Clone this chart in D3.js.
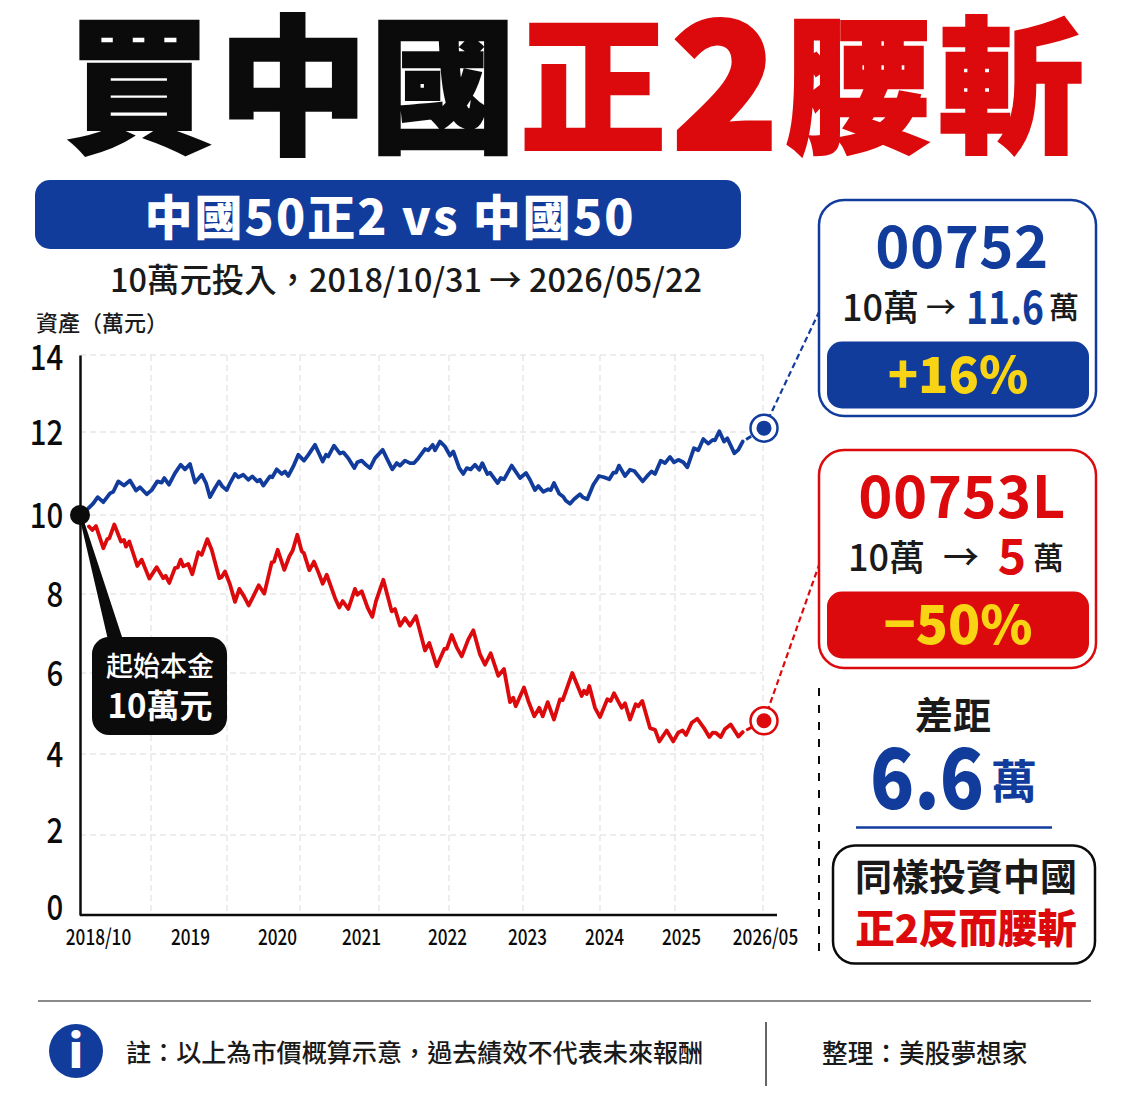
<!DOCTYPE html>
<html>
<head>
<meta charset="utf-8">
<script src="https://cdn.jsdelivr.net/npm/d3@7"></script>
<style>
  html, body { margin: 0; padding: 0; background: #fff; }
  text { font-family: "Noto Sans CJK TC", "Noto Sans", sans-serif; }
</style>
</head>
<body>
<div id="chart"></div>
<script>
// t = one step every 4 calendar days or so, counted from 2018/10/31
var yTicks = [0, 2, 4, 6, 8, 10, 12, 14];
var gridT = [71, 147, 220, 299, 369, 443, 520, 595, 683];
var xLabels = ["2018/10", "2019", "2020", "2021", "2022", "2023", "2024", "2025", "2026/05"];
var xLabelT = [18, 110, 197, 281, 367, 447, 524, 601, 685];

var blueT = [8.3, 13.3, 17.7, 23.3, 30, 33.3, 38.3, 44, 50, 56, 60, 66.7, 71.7, 77.3, 81.7, 84.3, 89, 95, 100.7, 105, 110, 115, 121.7, 126, 130, 135, 139, 142.3, 146.7, 150, 155, 158.3, 163.3, 168.3, 172.3, 177.3, 180, 183.3, 190, 192.3, 196.7, 201.7, 205, 208.3, 213.3, 218.3, 224, 228.3, 235, 242.7, 246, 248.3, 254, 260, 263.3, 268.3, 274.3, 277.3, 281.7, 285, 290, 295, 302.7, 306.7, 312.3, 316.7, 320, 325, 330, 334, 338.3, 345, 348.3, 352.7, 355, 360, 365, 370, 373.3, 379.3, 383.3, 386.7, 390.7, 395, 399.3, 402.3, 407.3, 410, 414, 417.7, 420.7, 424, 431.7, 440, 446, 450, 455, 458.3, 463.3, 468.3, 470.7, 474, 479.3, 483.3, 485.7, 490, 494, 500, 502.7, 507.3, 513.3, 519, 524, 529.3, 533.3, 536, 539, 545, 550, 554.3, 562.7, 568.3, 571.7, 575, 580.7, 585, 590, 594, 598.3, 603.3, 607.3, 614, 618.3, 623.3, 628.3, 632.7, 635, 639.3, 644, 647.3, 654.3, 658.3, 662.7];
var blueV = [10.16, 10.28, 10.43, 10.31, 10.52, 10.56, 10.81, 10.71, 10.83, 10.59, 10.67, 10.5, 10.6, 10.81, 10.78, 10.89, 10.73, 11.01, 11.21, 11.1, 11.23, 10.78, 10.97, 10.77, 10.43, 10.65, 10.81, 10.69, 10.6, 10.77, 10.99, 10.91, 10.97, 10.85, 10.93, 10.81, 10.85, 10.71, 10.93, 10.91, 11.1, 10.99, 11.05, 10.94, 11.17, 11.45, 11.31, 11.45, 11.69, 11.29, 11.45, 11.41, 11.67, 11.48, 11.51, 11.37, 11.13, 11.27, 11.31, 11.23, 11.13, 11.37, 11.57, 11.37, 11.1, 11.25, 11.19, 11.31, 11.25, 11.25, 11.37, 11.59, 11.56, 11.69, 11.56, 11.77, 11.65, 11.43, 11.53, 11.13, 10.99, 11.13, 11.1, 11.21, 11.09, 11.25, 10.99, 11.02, 10.89, 10.77, 10.89, 10.86, 11.19, 10.89, 11.01, 10.85, 10.6, 10.7, 10.56, 10.62, 10.6, 10.77, 10.51, 10.44, 10.35, 10.27, 10.38, 10.5, 10.43, 10.38, 10.73, 10.94, 10.91, 10.86, 11.02, 11.02, 11.19, 10.94, 11.09, 11.06, 10.81, 10.97, 11.05, 10.99, 11.31, 11.25, 11.4, 11.27, 11.33, 11.27, 11.15, 11.61, 11.56, 11.83, 11.72, 11.81, 11.8, 12.02, 11.77, 11.85, 11.49, 11.57, 11.77];

var redT = [9, 12.3, 16, 23.3, 27.3, 29.3, 34.3, 41, 44, 46, 49.3, 57.3, 61.7, 69.3, 76.7, 83.3, 85.7, 89.3, 95, 97.7, 100.7, 103.3, 108.3, 112.3, 118.3, 121.7, 127.3, 131.7, 139.3, 141.7, 145, 150, 155, 159.3, 164, 168.7, 173.3, 178.7, 184.3, 191.7, 194, 197.7, 204.3, 209.3, 212.7, 217.3, 221.7, 224, 229.3, 234, 239.3, 242.7, 246.7, 255, 259.3, 262.7, 268.3, 275, 277.3, 281.7, 287.7, 292.3, 296, 303.3, 311.7, 315, 320, 325, 330, 336, 345, 349.3, 356.7, 364.3, 366.7, 371.7, 376.7, 381.7, 388.3, 393.3, 400, 405, 410.7, 418.3, 424, 430, 433.3, 435.7, 444, 448.3, 454.3, 459.3, 462.7, 467.7, 474, 480, 482.7, 492.3, 501.7, 504, 506.7, 509.3, 515, 520, 527.3, 530.7, 534, 541.7, 545, 550, 555.7, 558.3, 562.3, 570, 575, 579.3, 586.7, 593.3, 598.3, 602.7, 606, 611.7, 617.3, 624, 629.3, 632.7, 636, 640.7, 645, 650.7, 658.3, 662.7];
var redV = [9.71, 9.62, 9.72, 9.16, 9.39, 9.41, 9.76, 9.33, 9.37, 9.2, 9.33, 8.71, 8.87, 8.39, 8.68, 8.4, 8.46, 8.28, 8.66, 8.67, 8.87, 8.7, 8.76, 8.5, 9.06, 8.99, 9.39, 9.12, 8.4, 8.43, 8.57, 8.24, 7.8, 8.13, 7.94, 7.71, 7.94, 8.22, 8.01, 8.8, 8.82, 9.12, 8.61, 8.95, 9.1, 9.5, 9.08, 9.03, 8.6, 8.82, 8.49, 8.26, 8.49, 7.9, 7.66, 7.82, 7.62, 8.13, 7.98, 8.07, 7.65, 7.42, 7.82, 8.36, 7.56, 7.62, 7.2, 7.39, 7.2, 7.44, 6.57, 6.76, 6.17, 6.61, 6.61, 6.96, 6.65, 6.42, 6.85, 7.08, 6.47, 6.21, 6.5, 5.93, 6.1, 5.28, 5.39, 5.18, 5.64, 5.31, 4.93, 5.14, 4.93, 5.28, 4.85, 5.35, 5.33, 6, 5.43, 5.56, 5.48, 5.68, 5.14, 4.91, 5.35, 5.31, 5.5, 5.14, 5.25, 4.85, 5.23, 5.18, 5.31, 4.64, 4.6, 4.31, 4.58, 4.31, 4.53, 4.58, 4.47, 4.77, 4.87, 4.64, 4.42, 4.53, 4.52, 4.42, 4.62, 4.73, 4.43, 4.54];

// start and end dots
var startV = 10;
var endT = 684;
var blueEnd = 12.1;
var redEnd = 4.82;

var BLUE = "#123c9c", RED = "#dc0a0c", YELLOW = "#f8d414", BLACK = "#0b0b0b";

var svg = d3.select("#chart").append("svg")
  .attr("width", 1122).attr("height", 1115)
  .style("display", "block");

// the gridlines in the picture are not evenly spaced, so the y scale has a stop per tick
var x = d3.scaleLinear().domain([0, 683]).range([80, 763]);
var y = d3.scaleLinear().domain(yTicks).range([915, 835, 754, 673, 594, 515, 432, 355]);

function label(s, px, py, size, fill, weight, anchor) {
  return svg.append("text")
    .attr("x", px).attr("y", py)
    .attr("font-size", size)
    .attr("font-weight", weight || 700)
    .attr("fill", fill)
    .attr("text-anchor", anchor || "middle")
    .attr("dominant-baseline", "central")
    .text(s);
}

// title, placed glyph by glyph because the spacing is looser than the font's
var titleGlyphs = ["買", "中", "國", "正", "2", "腰", "斬"];
var titleX = [139, 293, 443, 593, 725, 858, 1011];
var titleSize = [146, 150, 146, 146, 176, 146, 146];
titleGlyphs.forEach(function (g, i) {
  var c = i < 3 ? BLACK : RED;
  label(g, titleX[i], i === 4 ? 72 : 76, titleSize[i], c, 900).attr("stroke", c).attr("stroke-width", i === 4 ? 4 : 2.5);
});

// banner
svg.append("rect").attr("x", 35).attr("y", 180).attr("width", 706).attr("height", 69).attr("rx", 15).attr("fill", BLUE);
label("中國50正2 vs 中國50", 390, 214, 48, "#fff", 900).attr("letter-spacing", 2.1);
label("10萬元投入，2018/10/31 → 2026/05/22", 406, 277, 32.4, "#1a1a1a", 500);
label("資產（萬元）", 36, 321, 22, "#1a1a1a", 500, "start");

// grid
svg.append("g").selectAll("line").data(yTicks.slice(1)).join("line")
  .attr("x1", x(0)).attr("x2", x(683))
  .attr("y1", function (d) { return y(d); }).attr("y2", function (d) { return y(d); })
  .attr("stroke", "#dcdcdc").attr("stroke-width", 1.2).attr("stroke-dasharray", "6 4");
svg.append("g").selectAll("line").data(gridT).join("line")
  .attr("x1", function (d) { return x(d); }).attr("x2", function (d) { return x(d); })
  .attr("y1", y(14)).attr("y2", y(0))
  .attr("stroke", "#e2e2e2").attr("stroke-width", 1.2).attr("stroke-dasharray", "6 4");

// axes, tick text squeezed since the picture uses a narrow figure style
var yAxis = svg.append("g")
  .attr("transform", "translate(" + x(0) + ",0)")
  .call(d3.axisLeft(y).tickValues(yTicks).tickSize(0).tickPadding(20));
yAxis.selectAll("text")
  .attr("font-size", 35).attr("font-weight", 500).attr("fill", BLACK)
  .attr("transform", "scale(.84,1)")
  .attr("y", function (d) { return d === 0 ? -7 : d === 2 ? -4 : d === 14 ? 3 : 1; });
yAxis.select(".domain").attr("stroke", BLACK).attr("stroke-width", 2.5);

var xAxis = svg.append("g")
  .attr("transform", "translate(0," + y(0) + ")")
  .call(d3.axisBottom(x).tickValues(xLabelT)
    .tickFormat(function (d, i) { return xLabels[i]; })
    .tickSize(0).tickPadding(14));
xAxis.selectAll("text")
  .attr("font-size", 22).attr("font-weight", 500).attr("fill", BLACK)
  .attr("transform", "scale(.78,1)");
xAxis.select(".domain").attr("stroke", BLACK).attr("stroke-width", 2.5)
  .attr("d", "M" + x(0) + ",0H" + x(697));

// series
var line = d3.line()
  .x(function (d) { return x(d[0]); })
  .y(function (d) { return y(d[1]); });

function drawSeries(ts, vs, endV, color) {
  var pts = d3.zip(ts, vs);
  svg.append("path").attr("d", line(pts))
    .attr("fill", "none").attr("stroke", color).attr("stroke-width", 3.8)
    .attr("stroke-linejoin", "round").attr("stroke-linecap", "round");
  // one short dash into the end dot
  svg.append("path").attr("d", line([pts[pts.length - 1], [endT, endV]]))
    .attr("fill", "none").attr("stroke", color).attr("stroke-width", 3)
    .attr("stroke-dasharray", "0 4 6 100");
}
drawSeries(blueT, blueV, blueEnd, BLUE);
drawSeries(redT, redV, redEnd, RED);

// leader lines from the end dots up to the boxes
function leader(endV, bx, by, color) {
  svg.append("line")
    .attr("x1", x(endT)).attr("y1", y(endV)).attr("x2", bx).attr("y2", by)
    .attr("stroke", color).attr("stroke-width", 2.2).attr("stroke-dasharray", "6 3.5");
}
leader(blueEnd, 819, 312, BLUE);
leader(redEnd, 819, 565, RED);

function endDot(endV, color) {
  svg.append("circle").attr("cx", x(endT)).attr("cy", y(endV)).attr("r", 13.5)
    .attr("fill", "#fff").attr("stroke", color).attr("stroke-width", 2.5);
  svg.append("circle").attr("cx", x(endT)).attr("cy", y(endV)).attr("r", 7.5).attr("fill", color);
}
endDot(blueEnd, BLUE);
endDot(redEnd, RED);

// start callout
svg.append("path")
  .attr("d", "M" + (x(0) - 1) + "," + y(startV) + "L108,640L123,640L" + (x(0) + 2) + "," + y(startV) + "Z")
  .attr("fill", BLACK);
svg.append("circle").attr("cx", x(0)).attr("cy", y(startV)).attr("r", 10).attr("fill", BLACK);
svg.append("rect").attr("x", 92).attr("y", 637).attr("width", 135).attr("height", 98).attr("rx", 17).attr("fill", BLACK);
label("起始本金", 160, 664, 27, "#fff", 500);
label("10萬元", 160, 704, 33, "#fff", 700);

// right panels
function panel(py, color, code, pct, pctSize) {
  svg.append("rect").attr("x", 819).attr("y", py).attr("width", 277).attr("height", py === 200 ? 216 : 218).attr("rx", 25)
    .attr("fill", "#fff").attr("stroke", color).attr("stroke-width", 2.5);
  label(code, 962, py + 43, 58, color, 700).attr("letter-spacing", 0.5);
  svg.append("rect").attr("x", 827).attr("y", py + 141.5).attr("width", 262).attr("height", 67).attr("rx", 15).attr("fill", color);
  label(pct, 958, py + 171, pctSize, YELLOW, 900);
}
panel(200, BLUE, "00752", "+16%", 50);
panel(450, RED, "00753L", "−50%", 53);

label("10萬", 842, 305, 36, "#1a1a1a", 500, "start");
label("→", 941, 305, 30, "#1a1a1a", 500);
label("11.6", 966, 304, 46, BLUE, 700, "start").attr("textLength", 78).attr("lengthAdjust", "spacingAndGlyphs");
label("萬", 1049, 305, 30, "#1a1a1a", 500, "start");
label("10萬", 848, 555, 36, "#1a1a1a", 500, "start");
label("→", 961, 555, 36, "#1a1a1a", 500);
label("5", 1012, 553, 48, RED, 700);
label("萬", 1033, 555, 31, "#1a1a1a", 500, "start");

// gap block
svg.append("line").attr("x1", 819).attr("x2", 819).attr("y1", 688).attr("y2", 955)
  .attr("stroke", BLACK).attr("stroke-width", 2).attr("stroke-dasharray", "8 9");
label("差距", 953, 712, 38, "#1a1a1a", 700);
label("6.6", 927, 772, 84, BLUE, 900).attr("textLength", 114).attr("lengthAdjust", "spacingAndGlyphs");
label("萬", 1014, 778, 46, BLUE, 700);
svg.append("line").attr("x1", 856).attr("x2", 1052).attr("y1", 827.5).attr("y2", 827.5)
  .attr("stroke", BLUE).attr("stroke-width", 2.5);
svg.append("rect").attr("x", 833).attr("y", 845.5).attr("width", 262).attr("height", 118).attr("rx", 22)
  .attr("fill", "#fff").attr("stroke", BLACK).attr("stroke-width", 2.5);
label("同樣投資中國", 966, 875, 37, "#1a1a1a", 700);
label("正2反而腰斬", 966, 925, 39.5, RED, 900);

// footer
svg.append("line").attr("x1", 38).attr("x2", 1091).attr("y1", 1001).attr("y2", 1001)
  .attr("stroke", "#8a8a8a").attr("stroke-width", 2);
svg.append("circle").attr("cx", 76).attr("cy", 1051).attr("r", 27).attr("fill", BLUE);
label("i", 76, 1048, 46, "#fff", 900);
label("註：以上為市價概算示意，過去績效不代表未來報酬", 126, 1051, 25.1, "#1a1a1a", 500, "start");
svg.append("line").attr("x1", 766).attr("x2", 766).attr("y1", 1022).attr("y2", 1086)
  .attr("stroke", "#333").attr("stroke-width", 1.5);
label("整理：美股夢想家", 822, 1051, 25.7, "#1a1a1a", 500, "start");
</script>
</body>
</html>
